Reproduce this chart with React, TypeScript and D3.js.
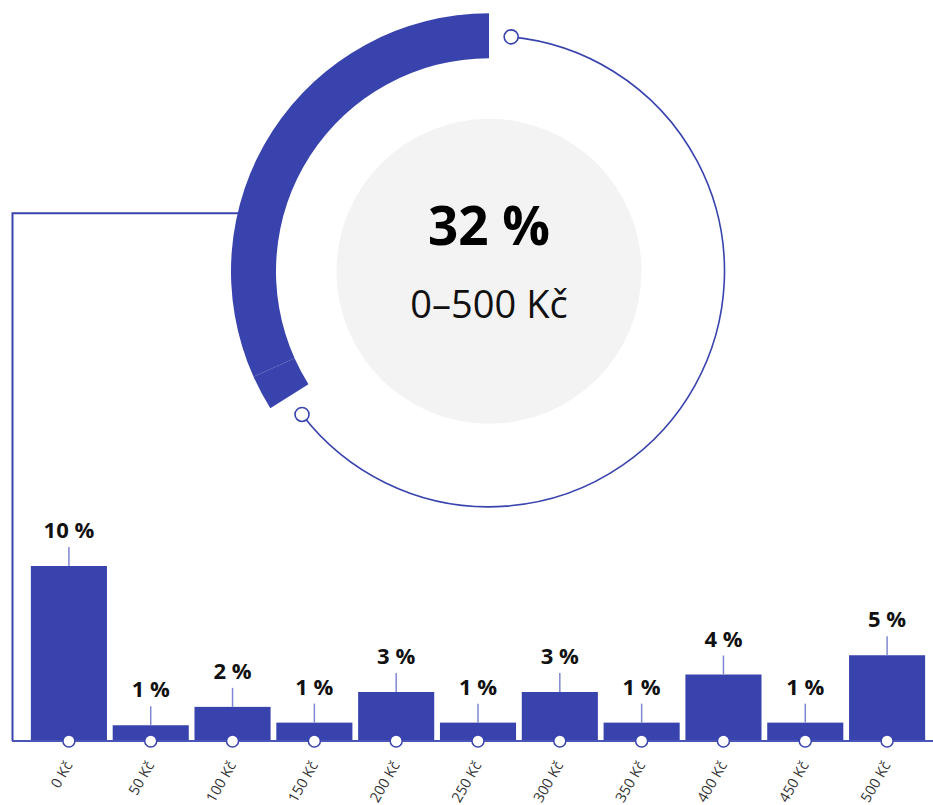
import React from "react";
import * as d3 from "d3";

const categories = ["0 Kč", "50 Kč", "100 Kč", "150 Kč", "200 Kč", "250 Kč", "300 Kč", "350 Kč", "400 Kč", "450 Kč", "500 Kč"];
const shares = [10.0, 0.9, 1.95, 1.05, 2.8, 1.05, 2.8, 1.05, 3.8, 1.05, 4.9];
const barLabels = ["10 %", "1 %", "2 %", "1 %", "3 %", "1 %", "3 %", "1 %", "4 %", "1 %", "5 %"];
const totalLabel = "32 %";
const rangeLabel = "0–500 Kč";
const donutSegments = [31.7, 2.2]; // share of circle, main part + small tail

const W = 933;
const H = 805;
const BLUE = "#3843ad";
const FONT = "'Open Sans', 'Noto Sans', sans-serif";

export default function App() {
  const cx = 489;
  const cy = 271.3;
  const rOut = 258;
  const rIn = 213;
  const rRing = 235.5;
  const deg = Math.PI / 180;

  const segs: { start: number; end: number }[] = [];
  let acc = 0;
  donutSegments.forEach((v) => {
    const a0 = -acc * 3.6 * deg;
    acc += v;
    const a1 = -acc * 3.6 * deg;
    segs.push({ start: a1, end: a0 });
  });
  const arcGen = d3.arc<{ start: number; end: number }>()
    .innerRadius(rIn)
    .outerRadius(rOut)
    .startAngle((d) => d.start)
    .endAngle((d) => d.end);

  const gapDeg = 5.4;
  const ringStart = gapDeg * deg;
  const ringEnd = (360 - acc * 3.6 - gapDeg) * deg;
  const ringArc = d3.arc()({
    innerRadius: rRing,
    outerRadius: rRing,
    startAngle: ringStart,
    endAngle: ringEnd,
  } as any);
  const markerPos = (a: number) => [cx + rRing * Math.sin(a), cy - rRing * Math.cos(a)];
  const m1 = markerPos(ringStart);
  const m2 = markerPos(ringEnd);

  const baseY = 741;
  const x = d3.scaleBand<string>().domain(categories).range([28, 928]).paddingInner(0.07).paddingOuter(0.035);
  const y = d3.scaleLinear().domain([0, 10]).range([baseY, 566]);

  return (
    <div style={{ position: "absolute", left: 0, top: 0 }}>
      <svg width={W} height={H} style={{ display: "block", fontFamily: FONT }}>
        <rect width={W} height={H} fill="#fff" />
        <path d={`M260,213.3 H12.5 V${baseY}`} fill="none" stroke={BLUE} strokeWidth={2} />
        <circle cx={cx} cy={cy} r={152.5} fill="#f3f3f3" />
        <path d={ringArc || ""} transform={`translate(${cx},${cy})`} fill="none" stroke={BLUE} strokeWidth={1.6} />
        {segs.map((s, i) => (
          <path key={i} d={arcGen(s) || ""} transform={`translate(${cx},${cy})`} fill={BLUE} />
        ))}
        <circle cx={m1[0]} cy={m1[1]} r={7} fill="#fff" stroke={BLUE} strokeWidth={1.6} />
        <circle cx={m2[0]} cy={m2[1]} r={7} fill="#fff" stroke={BLUE} strokeWidth={1.6} />
        <text x={cx} y={245} textAnchor="middle" fontSize={53} fontWeight={700} fill="#000">
          {totalLabel}
        </text>
        <text x={cx} y={318} textAnchor="middle" fontSize={38} fontWeight={400} fill="#111">
          {rangeLabel}
        </text>

        {categories.map((c, i) => {
          const bx = x(c) as number;
          const bw = x.bandwidth();
          const top = y(shares[i]);
          const mid = bx + bw / 2;
          return (
            <g key={c}>
              <rect x={bx} y={top} width={bw} height={baseY - top} fill={BLUE} />
              <line x1={mid} x2={mid} y1={top} y2={top - 19} stroke="#7f87d2" strokeWidth={1.5} />
              <text x={mid} y={top - 28} textAnchor="middle" fontSize={22} fontWeight={700} fill="#111">
                {barLabels[i]}
              </text>
            </g>
          );
        })}
        <line x1={12} x2={W} y1={baseY} y2={baseY} stroke="#4a55b8" strokeWidth={2} />
        {categories.map((c) => {
          const mid = (x(c) as number) + x.bandwidth() / 2;
          return (
            <g key={"t" + c}>
              <circle cx={mid} cy={baseY} r={6} fill="#fff" stroke={BLUE} strokeWidth={1.5} />
              <text
                transform={`translate(${mid + 4},${765}) rotate(-60)`}
                textAnchor="end"
                fontSize={14.5}
                fill="#333"
              >
                {c}
              </text>
            </g>
          );
        })}
      </svg>
    </div>
  );
}
